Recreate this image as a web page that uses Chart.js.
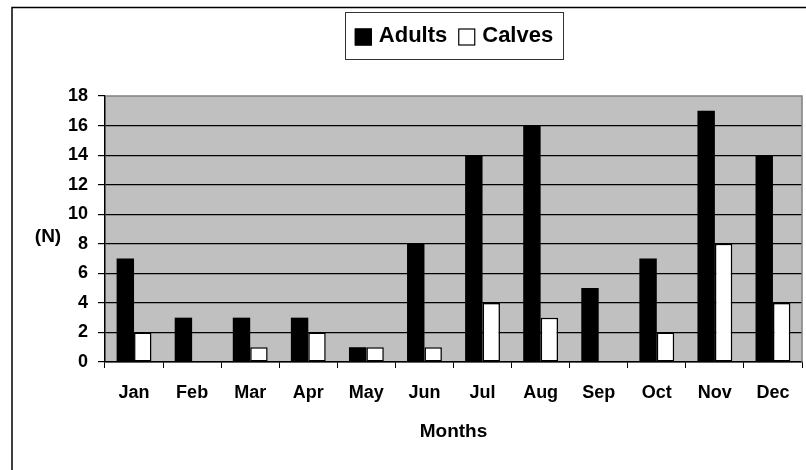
<!DOCTYPE html>
<html lang="en">
<head>
    <meta charset="UTF-8">
    <title>Adults and calves per month</title>
    <style>
        html, body { margin: 0; padding: 0; background: #fff; }
        canvas { display: block; }
    </style>
</head>
<body>

<!--  include chart.js-->
<script src="https://cdn.jsdelivr.net/npm/chart.js@4.4.0/dist/chart.umd.min.js"></script>
<canvas id="bar-chart" width="806" height="470"></canvas>

<script>
    // data
    const months = ["Jan", "Feb", "Mar", "Apr", "May", "Jun", "Jul", "Aug", "Sep", "Oct", "Nov", "Dec"];
    const adults = [7, 3, 3, 3, 1, 8, 14, 16, 5, 7, 17, 14];
    const calves = [2, 0, 1, 2, 1, 1, 4, 3, 0, 2, 8, 4];
    const yMin = 0;
    const yMax = 18;
    const yStep = 2;

    const FONT = "'Liberation Sans', Arial, sans-serif";

    // frame, grey plot area, horizontal "(N)" and the boxed legend
    const decorations = {
        id: 'decorations',
        beforeDraw(chart) {
            const ctx = chart.ctx;
            const a = chart.chartArea;
            ctx.save();
            ctx.fillStyle = '#fff';
            ctx.fillRect(0, 0, chart.width, chart.height);
            ctx.strokeStyle = '#000';
            ctx.lineWidth = 1.5;
            ctx.strokeRect(12, 7.5, 820, 500);
            ctx.fillStyle = '#c0c0c0';
            ctx.fillRect(a.left, a.top, a.right - a.left, a.bottom - a.top);
            ctx.restore();
        },
        afterDraw(chart) {
            const ctx = chart.ctx;
            const a = chart.chartArea;
            ctx.save();
            // grey top and right edge of the plot area
            ctx.strokeStyle = '#808080';
            ctx.lineWidth = 1.5;
            ctx.beginPath();
            ctx.moveTo(a.left, a.top);
            ctx.lineTo(a.right, a.top);
            ctx.lineTo(a.right, a.bottom);
            ctx.stroke();

            // y title, written level
            ctx.fillStyle = '#000';
            ctx.font = 'bold 19px ' + FONT;
            ctx.textAlign = 'center';
            ctx.textBaseline = 'middle';
            ctx.fillText('(N)', 48, 237);

            // legend
            ctx.font = 'bold 22px ' + FONT;
            ctx.textAlign = 'left';
            const sets = chart.data.datasets;
            const box = 17, gap = 7, between = 11;
            let total = 0;
            sets.forEach((ds, i) => {
                total += box + gap + ctx.measureText(ds.label).width;
                if (i < sets.length - 1) total += between;
            });
            const cx = 454, cy = 36;
            let x = cx - total / 2;
            sets.forEach(ds => {
                ctx.fillStyle = ds.backgroundColor;
                ctx.fillRect(x, cy - box / 2 + 1, box, box);
                ctx.strokeStyle = '#000';
                ctx.lineWidth = 1.2;
                ctx.strokeRect(x + 0.5, cy - box / 2 + 1.5, box - 1, box - 1);
                x += box + gap;
                ctx.fillStyle = '#000';
                ctx.fillText(ds.label, x, cy);
                x += ctx.measureText(ds.label).width + between;
            });
            ctx.strokeStyle = '#333';
            ctx.lineWidth = 1;
            ctx.strokeRect(345.5, 12.5, 218, 47);
            ctx.restore();
        }
    };

    new Chart(document.getElementById("bar-chart"), {
        type: 'bar',
        data: {
            labels: months,
            datasets: [{
                label: 'Adults',
                data: adults,
                backgroundColor: '#000000',
                borderColor: '#000000',
                borderWidth: 0,
                categoryPercentage: 0.6,
                barPercentage: 1.0
            }, {
                label: 'Calves',
                data: calves,
                backgroundColor: '#ffffff',
                borderColor: '#000000',
                borderWidth: 1.5,
                borderSkipped: false,
                categoryPercentage: 0.6,
                barPercentage: 1.0
            }]
        },
        options: {
            responsive: false,
            animation: false,
            devicePixelRatio: 1,
            layout: { padding: { top: 96, left: 12, right: 4, bottom: 0 } },
            plugins: {
                legend: { display: false },
                tooltip: { enabled: false }
            },
            scales: {
                x: {
                    offset: true,
                    grid: {
                        offset: true,
                        drawOnChartArea: false,
                        drawTicks: true,
                        tickLength: 6,
                        color: '#000'
                    },
                    border: { color: '#000', width: 1.5 },
                    ticks: {
                        color: '#000',
                        padding: 14,
                        font: { family: FONT, size: 18, weight: 'bold' }
                    },
                    title: {
                        display: true,
                        text: 'Months',
                        color: '#000',
                        font: { family: FONT, size: 19, weight: 'bold' },
                        padding: { top: 0, bottom: 27 }
                    },
                    afterFit(scale) { scale.height = 108; }
                },
                y: {
                    min: yMin,
                    max: yMax,
                    grid: {
                        color: c => (c.tick && c.tick.value === yMax) ? 'rgba(0,0,0,0)' : '#000',
                        tickColor: '#000',
                        tickLength: 7,
                        lineWidth: 1.2
                    },
                    border: { color: '#000', width: 1.5 },
                    ticks: {
                        stepSize: yStep,
                        color: '#000',
                        padding: 10,
                        font: { family: FONT, size: 18, weight: 'bold' }
                    },
                    afterFit(scale) { scale.width = 93; }
                }
            }
        },
        plugins: [decorations]
    });
</script>

</body>
</html>
